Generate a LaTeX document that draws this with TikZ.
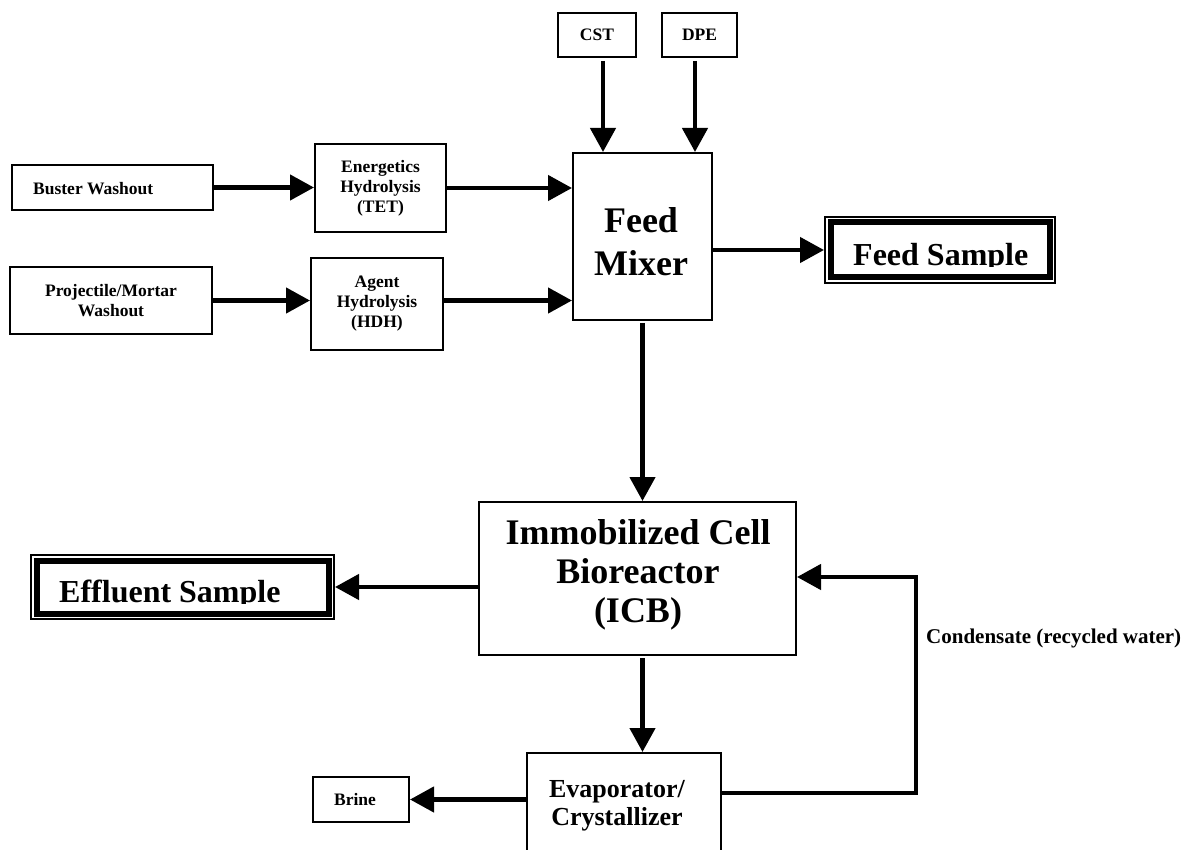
\documentclass[tikz,border=0pt]{standalone}
\usepackage{fontspec}
\setmainfont{Liberation Serif}
\usetikzlibrary{arrows.meta}
\begin{document}
\begin{tikzpicture}[x=1pt,y=-1pt,
  box/.style={draw=black, line width=2pt, fill=white, inner sep=0pt},
  conn/.style={line width=4.5pt, line join=miter, -{Triangle[length=24pt,width=25pt]}},
  thickrim/.style={draw=black, line width=6pt},
  sm/.style={font=\fontsize{17.5}{20}\selectfont\bfseries, align=center},
  big/.style={font=\fontsize{36}{43}\selectfont\bfseries, align=center},
  icbfont/.style={font=\fontsize{36}{39}\selectfont\bfseries, align=center},
  sample/.style={font=\fontsize{32}{36}\selectfont\bfseries, anchor=base west, inner sep=0pt},
  evfont/.style={font=\fontsize{26}{28}\selectfont\bfseries, align=center},
  condfont/.style={font=\fontsize{21}{24}\selectfont\bfseries, anchor=base west, inner sep=0pt},
]
\useasboundingbox (0,0) rectangle (1186,850);
\clip (0,0) rectangle (1186,850);

% top inputs
\node[box, minimum width=78pt, minimum height=44pt, sm] (cst) at (597,35) {CST};
\node[box, minimum width=75pt, minimum height=44pt, sm] (dpe) at (699.5,35) {DPE};

% feed mixer
\node[box, minimum width=139pt, minimum height=167pt] (mix) at (642.5,236.5) {};
\node[big] (mixt) at (641,241.5) {Feed\\Mixer};

% left sources
\node[box, minimum width=201pt, minimum height=45pt] (bw) at (112.5,187.5) {};
\node[sm, anchor=west, inner sep=0pt] (bwt) at (33,188.5) {Buster Washout};
\node[box, minimum width=202pt, minimum height=67pt, sm] (pm) at (111,300.5) {Projectile/Mortar\\Washout};

% hydrolysis
\node[box, minimum width=131pt, minimum height=88pt, sm] (eh) at (380.5,188) {Energetics\\Hydrolysis\\(TET)};
\node[box, minimum width=132pt, minimum height=92pt, sm] (ah) at (377,304) {Agent\\Hydrolysis\\(HDH)};

% feed sample
\node[box, minimum width=230pt, minimum height=66pt] (fs) at (940,250) {};
\draw[thickrim] ([xshift=6.5pt,yshift=-6.5pt]fs.north west) rectangle ([xshift=-6.5pt,yshift=6.5pt]fs.south east);
\begin{scope}
  \clip (836,226) rectangle (1046,267);
  \node[sample] (fst) at (853,266) {Feed Sample};
\end{scope}

% ICB
\node[box, minimum width=317pt, minimum height=153pt] (icb) at (637.5,578.5) {};
\node[icbfont] (icbt) at (638,575) {Immobilized Cell\\Bioreactor\\(ICB)};

% effluent sample
\node[box, minimum width=303pt, minimum height=64pt] (es) at (182.5,587) {};
\draw[thickrim] ([xshift=6.5pt,yshift=-6.5pt]es.north west) rectangle ([xshift=-6.5pt,yshift=6.5pt]es.south east);
\begin{scope}
  \clip (42,566) rectangle (323,603);
  \node[sample] (est) at (59,602) {Effluent Sample};
\end{scope}

% evaporator
\node[box, minimum width=194pt, minimum height=110pt] (ev) at (624,808) {};
\node[evfont] (evt) at (617,806) {Evaporator/\\Crystallizer};

% brine
\node[box, minimum width=96pt, minimum height=45pt] (brine) at (361,799.5) {};
\node[sm, inner sep=0pt] (brinet) at (355,799.5) {Brine};

% condensate label
\node[condfont] (cond) at (926,643) {Condensate (recycled water)};

% connectors
\coordinate (cstout) at ([xshift=6pt,yshift=-3pt]cst.south);
\coordinate (dpeout) at ([xshift=-4.5pt,yshift=-3pt]dpe.south);
\draw[conn] (cstout) -- (cstout |- mix.north);
\draw[conn] (dpeout) -- (dpeout |- mix.north);
\draw[conn] (bw.east) -- (bw.east -| eh.west);
\draw[conn] (eh.east) -- (eh.east -| mix.west);
\draw[conn] (pm.east) -- (pm.east -| ah.west);
\draw[conn] (pm.east -| ah.east) -- (pm.east -| mix.west);
\draw[conn] (fs.west -| mix.east) -- (fs.west);
\draw[conn] ([yshift=-2pt]mix.south) -- (mix.south |- icb.north);
\draw[conn] (es.east -| icb.west) -- (es.east);
\draw[conn] ([yshift=-2pt]icb.south -| mix.south) -- (ev.north -| mix.south);
\draw[conn] (ev.west |- brine.east) -- (brine.east);
\coordinate (evout) at (721,793);
\coordinate (icbin) at (796,577);
\coordinate (loopx) at (916,700);
\draw[conn] (ev.east |- evout) -- (loopx |- evout) -- (loopx |- icbin) -- (icb.east |- icbin);
\end{tikzpicture}
\end{document}
